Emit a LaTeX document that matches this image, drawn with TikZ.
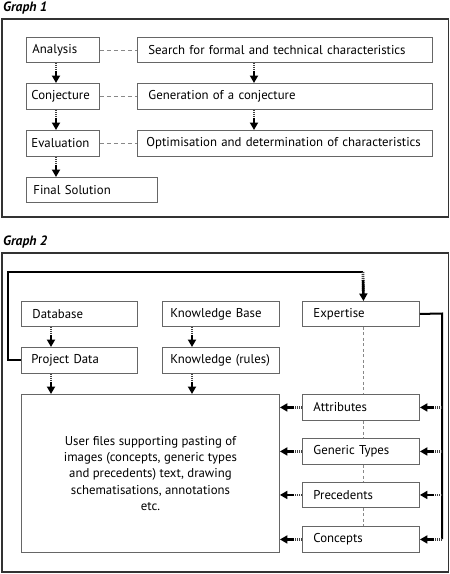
\documentclass[tikz,border=0pt]{standalone}
\usepackage{fontspec}
\setmainfont{PT Sans}
\usetikzlibrary{arrows.meta,calc}
\definecolor{framec}{HTML}{333333}
\definecolor{boxc}{HTML}{666666}
\definecolor{dashc}{HTML}{888888}
\tikzset{
  frame/.style={draw=framec, line width=1.5pt},
  box/.style={draw=boxc, line width=0.9pt, anchor=north west, align=left, inner ysep=0pt,
              minimum height=25pt, font=\fontsize{12.8}{15}\selectfont},
  flow/.style={line width=2.8pt, draw=black!75, dash pattern=on 1pt off 1pt, shorten >=10pt,
     postaction={draw=black, solid, line width=2.6pt, shorten <=8pt, shorten >=0pt,
                 -{Triangle[length=7.5pt,width=8pt]}}},
  fbline/.style={draw=black, line width=2pt},
  gdash/.style={draw=dashc, line width=0.9pt, dash pattern=on 4pt off 3pt},
  vdash/.style={draw=dashc, line width=0.9pt, dash pattern=on 3pt off 2.5pt},
  title/.style={anchor=west, inner sep=0pt, font=\fontsize{13.5}{15}\selectfont\bfseries\itshape}
}
\begin{document}
\begin{tikzpicture}[x=1pt,y=-1pt]
\useasboundingbox[fill=white] (0,0) rectangle (450,574);
% ---------- Graph 1 ----------
\node[title] (t1) at (3,8) {Graph 1};
\draw[frame] (2,19) rectangle (448.5,217);
\node[box, text width=61pt, inner xsep=6pt] (ana) at (26,37) {Analysis};
\node[box, text width=273pt, inner xsep=11pt] (srch) at (137,37) {Search for formal and technical characteristics};
\node[box, text width=63pt, inner xsep=5pt, minimum height=26pt] (conj) at (26,83) {Conjecture};
\node[box, text width=273pt, inner xsep=11pt, minimum height=26pt] (gen) at (137,83) {Generation of a conjecture};
\node[box, text width=63pt, inner xsep=5pt, minimum height=26pt] (eval) at (26,130) {Evaluation};
\node[box, text width=277pt, inner xsep=9pt, minimum height=26pt] (opt) at (137,130) {\mbox{Optimisation and determination of characteristics}};
\node[box, text width=117pt, inner xsep=7pt] (fin) at (26,177) {Final Solution};
\draw[gdash] (ana.east) -- (srch.west);
\draw[gdash] (conj.east) -- (gen.west);
\draw[gdash] (eval.east) -- (opt.west);
\draw[flow] ([xshift=30pt]ana.south west) -- ([xshift=30pt]conj.north west);
\draw[flow] ([xshift=30pt]conj.south west) -- ([xshift=30pt]eval.north west);
\draw[flow] ([xshift=30pt]eval.south west) -- ([xshift=30pt]fin.north west);
\draw[flow] ([xshift=117pt]srch.south west) -- ([xshift=117pt]gen.north west);
\draw[flow] ([xshift=117pt]gen.south west) -- ([xshift=117pt]opt.north west);
% ---------- Graph 2 ----------
\node[title] (t2) at (3,242) {Graph 2};
\draw[frame] (2,253) rectangle (448.5,572);
\node[box, text width=94pt, inner xsep=11pt] (db) at (21,301) {Database};
\node[box, text width=101pt, inner xsep=8pt] (kb) at (162,301) {Knowledge Base};
\node[box, text width=95pt, inner xsep=11pt] (exp) at (302,301) {Expertise};
\node[box, text width=96pt, inner xsep=10pt, minimum height=26pt] (pd) at (21,347) {Project Data};
\node[box, text width=101pt, inner xsep=8pt, minimum height=26pt] (kr) at (162,347) {Knowledge (rules)};
\node[draw=boxc, line width=0.9pt, anchor=north west, minimum width=258pt, minimum height=158pt,
      align=center, font=\fontsize{12.8}{16.3}\selectfont] (big) at (21,394)
  {User files supporting pasting of\\images (concepts, generic types\\and precedents) text, drawing\\schematisations, annotations\\etc.};
\node[box, text width=95pt, inner xsep=11pt, minimum height=26pt] (attr) at (302,394) {Attributes};
\node[box, text width=95pt, inner xsep=11pt, minimum height=26pt] (gtyp) at (302,438) {Generic Types};
\node[box, text width=95pt, inner xsep=11pt] (prec) at (302,482) {Precedents};
\node[box, text width=95pt, inner xsep=11pt, minimum height=26pt] (conc) at (302,526) {Concepts};
% vertical dashed line
\draw[vdash] ([xshift=2.5pt]exp.south) -- ([xshift=2.5pt]attr.north);
\draw[vdash] ([xshift=2.5pt]attr.south) -- ([xshift=2.5pt]gtyp.north);
\draw[vdash] ([xshift=2.5pt]gtyp.south) -- ([xshift=2.5pt]prec.north);
\draw[vdash] ([xshift=2.5pt]prec.south) -- ([xshift=2.5pt]conc.north);
% down arrows
\draw[flow] ([xshift=30pt]db.south west) -- ([xshift=30pt]pd.north west);
\draw[flow] ([xshift=30pt]kb.south west) -- ([xshift=30pt]kr.north west);
\draw[flow] ([xshift=30pt]pd.south west) -- ([xshift=30pt]pd.south west |- big.north);
\draw[flow] ([xshift=30pt]kr.south west) -- ([xshift=30pt]kr.south west |- big.north);
% feedback loop
\coordinate (fbleft) at (8,272);
\coordinate (fbtop) at (363,272);
\draw[fbline] (pd.west) -- (pd.west -| fbleft) -- (fbleft) -- (fbtop);
\draw[flow] (fbtop) -- ([xshift=2.5pt]exp.north);
% right bus
\coordinate (rtop) at (442,313.5);
\coordinate (rbot) at (442,539);
\draw[fbline] (exp.east) -- (rtop) -- (rbot);
\foreach \n in {attr,gtyp,prec,conc}{
  \draw[flow] (\n.east -| rbot) -- (\n.east);
  \draw[flow] (\n.west) -- (\n.west -| big.east);
}
\end{tikzpicture}
\end{document}
